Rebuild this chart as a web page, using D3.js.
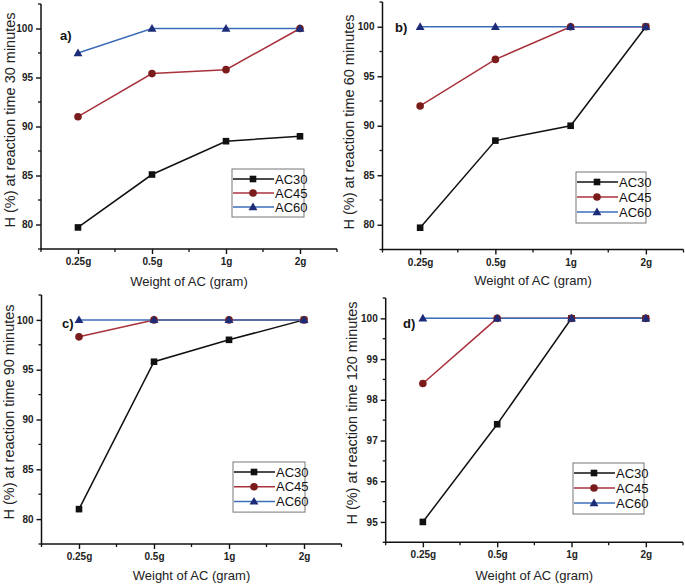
<!DOCTYPE html>
<html><head><meta charset="utf-8">
<script src="https://cdn.jsdelivr.net/npm/d3@7"></script>
<style>
body{margin:0;background:#fff;}
svg{display:block;font-family:"Liberation Sans",Arial,sans-serif;}
</style></head>
<body>
<svg id="chart" width="685" height="586"></svg>
<script>
// ---------- data ----------
const categories = ["0.25g", "0.5g", "1g", "2g"];
const seriesNames = ["AC30", "AC45", "AC60"];
const panelLabels = ["a)", "b)", "c)", "d)"];
const yTitles = [
  "H (%) at reaction time 30 minutes",
  "H (%) at reaction time 60 minutes",
  "H (%) at reaction time 90 minutes",
  "H (%) at reaction time 120 minutes"
];
const xTitle = "Weight of AC (gram)";

const a_AC30 = [79.7, 85.1, 88.5, 89.0];
const a_AC45 = [91.0, 95.4, 95.8, 100];
const a_AC60 = [97.5, 100, 100, 100];

const b_AC30 = [79.7, 88.5, 90.0, 100];
const b_AC45 = [92.0, 96.7, 100, 100];
const b_AC60 = [100, 100, 100, 100];

const c_AC30 = [81.0, 95.8, 98.0, 100];
const c_AC45 = [98.3, 100, 100, 100];
const c_AC60 = [100, 100, 100, 100];

const d_AC30 = [95.0, 97.4, 100, 100];
const d_AC45 = [98.4, 100, 100, 100];
const d_AC60 = [100, 100, 100, 100];

const yTicksABC = [80, 85, 90, 95, 100];
const yTicksD = [95, 96, 97, 98, 99, 100];

// ---------- layout / style ----------
const styles = [
  {line: "#111111", fill: "#111111", shape: "square"},
  {line: "#a8323c", fill: "#7a1c1c", shape: "circle"},
  {line: "#3d6cb8", fill: "#1d2c78", shape: "triangle"}
];

const panels = [
  {data: [a_AC30, a_AC45, a_AC60], yDomain: [77.5, 102.5], yTicks: yTicksABC, minorStep: 2.5,
   x0: 41, x1: 337, yTop: 4, yBot: 249,
   yTitle: [10, 120], xTitleY: 281, label: [60, 35],
   legend: {x: 232, y: 169, w: 72, step: 14}},
  {data: [b_AC30, b_AC45, b_AC60], yDomain: [77.5, 102.5], yTicks: yTicksABC, minorStep: 2.5,
   x0: 382.5, x1: 683.5, yTop: 2, yBot: 249.5,
   yTitle: [349, 122], xTitleY: 280, label: [395, 27],
   legend: {x: 576, y: 172, w: 70, step: 15}},
  {data: [c_AC30, c_AC45, c_AC60], yDomain: [77.5, 102.5], yTicks: yTicksABC, minorStep: 2.5,
   x0: 41.5, x1: 341.5, yTop: 295, yBot: 544,
   yTitle: [9, 412], xTitleY: 575, label: [62, 323],
   legend: {x: 233, y: 462, w: 72, step: 14.7}},
  {data: [d_AC30, d_AC45, d_AC60], yDomain: [94.5, 100.5], yTicks: yTicksD, minorStep: 0.5,
   x0: 385.7, x1: 683, yTop: 298, yBot: 542.3,
   yTitle: [352, 413], xTitleY: 575, label: [403, 323],
   legend: {x: 573, y: 463, w: 71, step: 15}}
];

const svg = d3.select("#chart");

function drawMarker(g, shape, x, y, fill) {
  if (shape === "square") {
    g.append("rect").attr("x", x - 3.3).attr("y", y - 3.3).attr("width", 6.6).attr("height", 6.6).attr("fill", fill);
  } else if (shape === "circle") {
    g.append("circle").attr("cx", x).attr("cy", y).attr("r", 3.8).attr("fill", fill);
  } else {
    g.append("path").attr("d", d3.symbol(d3.symbolTriangle, 34)()).attr("transform", `translate(${x},${y + 0.6})`).attr("fill", fill);
  }
}

panels.forEach((p, pi) => {
  const g = svg.append("g");
  const x = d3.scalePoint().domain(categories).range([p.x0, p.x1]).padding(0.5);
  const y = d3.scaleLinear().domain(p.yDomain).range([p.yBot, p.yTop]);

  // minor ticks
  const minorY = d3.range(p.yDomain[0], p.yDomain[1] + 1e-6, p.minorStep).filter(v => !p.yTicks.some(t => Math.abs(t - v) < 1e-6));
  g.selectAll(".my").data(minorY).join("line")
    .attr("x1", p.x0 - 3).attr("x2", p.x0).attr("y1", d => y(d)).attr("y2", d => y(d))
    .attr("stroke", "#111").attr("stroke-width", 1.3);
  const step = x.step();
  const minorX = d3.range(0, categories.length + 1).map(i => p.x0 + i * step);
  g.selectAll(".mx").data(minorX).join("line")
    .attr("x1", d => d).attr("x2", d => d).attr("y1", p.yBot).attr("y2", p.yBot + 3)
    .attr("stroke", "#111").attr("stroke-width", 1.3);

  // axes
  const yAxis = d3.axisLeft(y).tickValues(p.yTicks).tickFormat(d3.format("d")).tickSize(5).tickSizeOuter(0).tickPadding(3);
  const ya = g.append("g").attr("transform", `translate(${p.x0},0)`).call(yAxis);
  const xAxis = d3.axisBottom(x).tickSize(5).tickSizeOuter(0).tickPadding(4);
  const xa = g.append("g").attr("transform", `translate(0,${p.yBot})`).call(xAxis);
  [ya, xa].forEach(a => {
    a.select(".domain").remove();
    a.selectAll(".tick line").attr("stroke", "#111").attr("stroke-width", 1.4);
    a.selectAll(".tick text").attr("fill", "#222").style("font-size", "10px").style("font-family", "'Liberation Sans', Arial, sans-serif").style("font-weight", "600");
  });
  g.append("line").attr("x1", p.x0).attr("x2", p.x0).attr("y1", p.yTop).attr("y2", p.yBot + 0.7)
    .attr("stroke", "#111").attr("stroke-width", 1.5);
  g.append("line").attr("x1", p.x0).attr("x2", p.x1).attr("y1", p.yBot).attr("y2", p.yBot)
    .attr("stroke", "#111").attr("stroke-width", 1.5);

  // titles
  g.append("text").attr("transform", `translate(${p.yTitle[0]},${p.yTitle[1]}) rotate(-90)`)
    .attr("text-anchor", "middle").attr("dominant-baseline", "central")
    .style("font-size", "14.5px").attr("fill", "#222").text(yTitles[pi]);
  g.append("text").attr("x", (p.x0 + p.x1) / 2).attr("y", p.xTitleY)
    .attr("text-anchor", "middle").attr("dominant-baseline", "central")
    .style("font-size", "13px").attr("fill", "#222").text(xTitle);
  g.append("text").attr("x", p.label[0]).attr("y", p.label[1])
    .attr("dominant-baseline", "central")
    .style("font-size", "13px").style("font-weight", "600").attr("fill", "#111").text(panelLabels[pi]);

  // series
  const line = d3.line().x((d, i) => x(categories[i])).y(d => y(d));
  p.data.forEach((vals, si) => {
    g.append("path").datum(vals).attr("d", line).attr("fill", "none")
      .attr("stroke", styles[si].line).attr("stroke-width", 1.5);
  });
  p.data.forEach((vals, si) => {
    vals.forEach((v, i) => drawMarker(g, styles[si].shape, x(categories[i]), y(v), styles[si].fill));
  });

  // legend
  const L = p.legend;
  const lg = g.append("g");
  lg.append("rect").attr("x", L.x).attr("y", L.y).attr("width", L.w).attr("height", L.step * 3 + 6)
    .attr("fill", "#fff").attr("stroke", "#777").attr("stroke-width", 1);
  seriesNames.forEach((name, si) => {
    const cy = L.y + 10 + si * L.step;
    lg.append("line").attr("x1", L.x + 1).attr("x2", L.x + 42).attr("y1", cy).attr("y2", cy)
      .attr("stroke", styles[si].line).attr("stroke-width", 1.5);
    drawMarker(lg, styles[si].shape, L.x + 21, cy, styles[si].fill);
    lg.append("text").attr("x", L.x + 43).attr("y", cy).attr("dominant-baseline", "central")
      .style("font-size", "13px").attr("fill", "#111").text(name);
  });
});
</script>
</body></html>
